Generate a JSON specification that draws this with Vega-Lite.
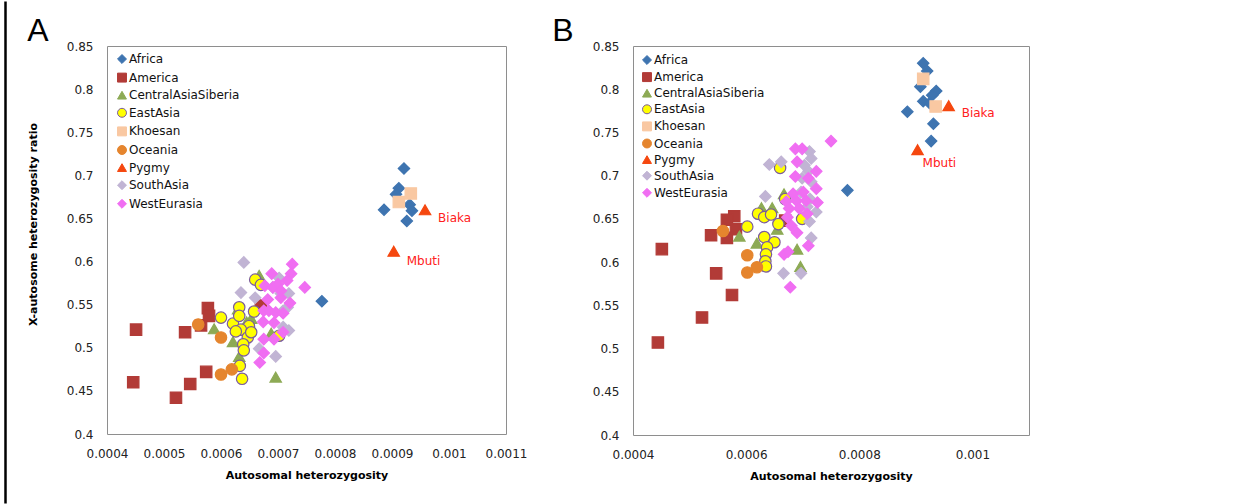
{
  "$schema": "https://vega.github.io/schema/vega-lite/v6.json",
  "background": "white",
  "padding": {"left": 2, "top": 14, "right": 0, "bottom": 0},
  "spacing": 17,
  "datasets": {
    "A": [
      {"g": "Africa", "x": 0.000921, "y": 0.708},
      {"g": "Africa", "x": 0.000912, "y": 0.685},
      {"g": "Africa", "x": 0.000907, "y": 0.678},
      {"g": "Africa", "x": 0.000931, "y": 0.666},
      {"g": "Africa", "x": 0.000935, "y": 0.659},
      {"g": "Africa", "x": 0.000926, "y": 0.647},
      {"g": "Africa", "x": 0.000886, "y": 0.660},
      {"g": "Africa", "x": 0.000777, "y": 0.554},
      {"g": "America", "x": 0.000451, "y": 0.521},
      {"g": "America", "x": 0.000446, "y": 0.460},
      {"g": "America", "x": 0.000537, "y": 0.518},
      {"g": "America", "x": 0.000521, "y": 0.442},
      {"g": "America", "x": 0.000546, "y": 0.458},
      {"g": "America", "x": 0.000574, "y": 0.472},
      {"g": "America", "x": 0.000577, "y": 0.546},
      {"g": "America", "x": 0.000579, "y": 0.537},
      {"g": "America", "x": 0.000565, "y": 0.526},
      {"g": "America", "x": 0.000670, "y": 0.549},
      {"g": "CentralAsiaSiberia", "x": 0.000588, "y": 0.522},
      {"g": "CentralAsiaSiberia", "x": 0.000621, "y": 0.507},
      {"g": "CentralAsiaSiberia", "x": 0.000632, "y": 0.490},
      {"g": "CentralAsiaSiberia", "x": 0.000630, "y": 0.545},
      {"g": "CentralAsiaSiberia", "x": 0.000653, "y": 0.534},
      {"g": "CentralAsiaSiberia", "x": 0.000645, "y": 0.530},
      {"g": "CentralAsiaSiberia", "x": 0.000667, "y": 0.584},
      {"g": "CentralAsiaSiberia", "x": 0.000688, "y": 0.517},
      {"g": "CentralAsiaSiberia", "x": 0.000696, "y": 0.466},
      {"g": "EastAsia", "x": 0.000600, "y": 0.535},
      {"g": "EastAsia", "x": 0.000621, "y": 0.528},
      {"g": "EastAsia", "x": 0.000632, "y": 0.547},
      {"g": "EastAsia", "x": 0.000632, "y": 0.537},
      {"g": "EastAsia", "x": 0.000649, "y": 0.525},
      {"g": "EastAsia", "x": 0.000635, "y": 0.521},
      {"g": "EastAsia", "x": 0.000626, "y": 0.519},
      {"g": "EastAsia", "x": 0.000647, "y": 0.512},
      {"g": "EastAsia", "x": 0.000639, "y": 0.504},
      {"g": "EastAsia", "x": 0.000640, "y": 0.497},
      {"g": "EastAsia", "x": 0.000633, "y": 0.479},
      {"g": "EastAsia", "x": 0.000637, "y": 0.464},
      {"g": "EastAsia", "x": 0.000658, "y": 0.542},
      {"g": "EastAsia", "x": 0.000660, "y": 0.579},
      {"g": "EastAsia", "x": 0.000670, "y": 0.573},
      {"g": "EastAsia", "x": 0.000702, "y": 0.514},
      {"g": "EastAsia", "x": 0.000653, "y": 0.518},
      {"g": "Khoesan", "x": 0.000933, "y": 0.679},
      {"g": "Khoesan", "x": 0.000912, "y": 0.669},
      {"g": "Oceania", "x": 0.000560, "y": 0.527},
      {"g": "Oceania", "x": 0.000600, "y": 0.512},
      {"g": "Oceania", "x": 0.000600, "y": 0.469},
      {"g": "Oceania", "x": 0.000619, "y": 0.475},
      {"g": "Pygmy", "x": 0.000958, "y": 0.660, "pop": "Biaka"},
      {"g": "Pygmy", "x": 0.000903, "y": 0.612, "pop": "Mbuti"},
      {"g": "SouthAsia", "x": 0.000640, "y": 0.599},
      {"g": "SouthAsia", "x": 0.000635, "y": 0.564},
      {"g": "SouthAsia", "x": 0.000660, "y": 0.558},
      {"g": "SouthAsia", "x": 0.000702, "y": 0.581},
      {"g": "SouthAsia", "x": 0.000691, "y": 0.570},
      {"g": "SouthAsia", "x": 0.000705, "y": 0.563},
      {"g": "SouthAsia", "x": 0.000719, "y": 0.563},
      {"g": "SouthAsia", "x": 0.000717, "y": 0.547},
      {"g": "SouthAsia", "x": 0.000709, "y": 0.543},
      {"g": "SouthAsia", "x": 0.000719, "y": 0.520},
      {"g": "SouthAsia", "x": 0.000709, "y": 0.524},
      {"g": "SouthAsia", "x": 0.000667, "y": 0.499},
      {"g": "SouthAsia", "x": 0.000696, "y": 0.490},
      {"g": "WestEurasia", "x": 0.000725, "y": 0.597},
      {"g": "WestEurasia", "x": 0.000723, "y": 0.586},
      {"g": "WestEurasia", "x": 0.000747, "y": 0.570},
      {"g": "WestEurasia", "x": 0.000689, "y": 0.586},
      {"g": "WestEurasia", "x": 0.000677, "y": 0.572},
      {"g": "WestEurasia", "x": 0.000691, "y": 0.570},
      {"g": "WestEurasia", "x": 0.000700, "y": 0.574},
      {"g": "WestEurasia", "x": 0.000716, "y": 0.578},
      {"g": "WestEurasia", "x": 0.000705, "y": 0.566},
      {"g": "WestEurasia", "x": 0.000682, "y": 0.556},
      {"g": "WestEurasia", "x": 0.000705, "y": 0.558},
      {"g": "WestEurasia", "x": 0.000721, "y": 0.552},
      {"g": "WestEurasia", "x": 0.000675, "y": 0.543},
      {"g": "WestEurasia", "x": 0.000684, "y": 0.543},
      {"g": "WestEurasia", "x": 0.000696, "y": 0.541},
      {"g": "WestEurasia", "x": 0.000709, "y": 0.540},
      {"g": "WestEurasia", "x": 0.000674, "y": 0.530},
      {"g": "WestEurasia", "x": 0.000693, "y": 0.529},
      {"g": "WestEurasia", "x": 0.000709, "y": 0.518},
      {"g": "WestEurasia", "x": 0.000675, "y": 0.510},
      {"g": "WestEurasia", "x": 0.000693, "y": 0.510},
      {"g": "WestEurasia", "x": 0.000675, "y": 0.494},
      {"g": "WestEurasia", "x": 0.000668, "y": 0.483}
    ],
    "B": [
      {"g": "Africa", "x": 0.000913, "y": 0.830},
      {"g": "Africa", "x": 0.000920, "y": 0.821},
      {"g": "Africa", "x": 0.000908, "y": 0.803},
      {"g": "Africa", "x": 0.000936, "y": 0.798},
      {"g": "Africa", "x": 0.000929, "y": 0.793},
      {"g": "Africa", "x": 0.000913, "y": 0.786},
      {"g": "Africa", "x": 0.000924, "y": 0.784},
      {"g": "Africa", "x": 0.000885, "y": 0.774},
      {"g": "Africa", "x": 0.000931, "y": 0.760},
      {"g": "Africa", "x": 0.000927, "y": 0.740},
      {"g": "Africa", "x": 0.000779, "y": 0.683},
      {"g": "America", "x": 0.000579, "y": 0.653},
      {"g": "America", "x": 0.000566, "y": 0.649},
      {"g": "America", "x": 0.000582, "y": 0.638},
      {"g": "America", "x": 0.000538, "y": 0.631},
      {"g": "America", "x": 0.000566, "y": 0.628},
      {"g": "America", "x": 0.000451, "y": 0.615},
      {"g": "America", "x": 0.000547, "y": 0.587},
      {"g": "America", "x": 0.000575, "y": 0.562},
      {"g": "America", "x": 0.000522, "y": 0.536},
      {"g": "America", "x": 0.000444, "y": 0.507},
      {"g": "America", "x": 0.000669, "y": 0.648},
      {"g": "CentralAsiaSiberia", "x": 0.000588, "y": 0.630},
      {"g": "CentralAsiaSiberia", "x": 0.000619, "y": 0.622},
      {"g": "CentralAsiaSiberia", "x": 0.000627, "y": 0.663},
      {"g": "CentralAsiaSiberia", "x": 0.000646, "y": 0.663},
      {"g": "CentralAsiaSiberia", "x": 0.000655, "y": 0.638},
      {"g": "CentralAsiaSiberia", "x": 0.000667, "y": 0.679},
      {"g": "CentralAsiaSiberia", "x": 0.000690, "y": 0.615},
      {"g": "CentralAsiaSiberia", "x": 0.000696, "y": 0.595},
      {"g": "EastAsia", "x": 0.000602, "y": 0.641},
      {"g": "EastAsia", "x": 0.000621, "y": 0.656},
      {"g": "EastAsia", "x": 0.000632, "y": 0.652},
      {"g": "EastAsia", "x": 0.000644, "y": 0.655},
      {"g": "EastAsia", "x": 0.000657, "y": 0.644},
      {"g": "EastAsia", "x": 0.000632, "y": 0.629},
      {"g": "EastAsia", "x": 0.000650, "y": 0.623},
      {"g": "EastAsia", "x": 0.000637, "y": 0.617},
      {"g": "EastAsia", "x": 0.000635, "y": 0.609},
      {"g": "EastAsia", "x": 0.000634, "y": 0.601},
      {"g": "EastAsia", "x": 0.000635, "y": 0.595},
      {"g": "EastAsia", "x": 0.000660, "y": 0.709},
      {"g": "EastAsia", "x": 0.000669, "y": 0.673},
      {"g": "EastAsia", "x": 0.000699, "y": 0.650},
      {"g": "Khoesan", "x": 0.000913, "y": 0.812},
      {"g": "Khoesan", "x": 0.000935, "y": 0.780},
      {"g": "Oceania", "x": 0.000559, "y": 0.636},
      {"g": "Oceania", "x": 0.000602, "y": 0.608},
      {"g": "Oceania", "x": 0.000602, "y": 0.588},
      {"g": "Oceania", "x": 0.000619, "y": 0.594},
      {"g": "Pygmy", "x": 0.000958, "y": 0.781, "pop": "Biaka"},
      {"g": "Pygmy", "x": 0.000903, "y": 0.730, "pop": "Mbuti"},
      {"g": "SouthAsia", "x": 0.000641, "y": 0.713},
      {"g": "SouthAsia", "x": 0.000662, "y": 0.716},
      {"g": "SouthAsia", "x": 0.000634, "y": 0.676},
      {"g": "SouthAsia", "x": 0.000712, "y": 0.728},
      {"g": "SouthAsia", "x": 0.000715, "y": 0.720},
      {"g": "SouthAsia", "x": 0.000703, "y": 0.712},
      {"g": "SouthAsia", "x": 0.000710, "y": 0.705},
      {"g": "SouthAsia", "x": 0.000699, "y": 0.697},
      {"g": "SouthAsia", "x": 0.000715, "y": 0.693},
      {"g": "SouthAsia", "x": 0.000697, "y": 0.681},
      {"g": "SouthAsia", "x": 0.000713, "y": 0.673},
      {"g": "SouthAsia", "x": 0.000708, "y": 0.664},
      {"g": "SouthAsia", "x": 0.000724, "y": 0.658},
      {"g": "SouthAsia", "x": 0.000712, "y": 0.647},
      {"g": "SouthAsia", "x": 0.000715, "y": 0.628},
      {"g": "SouthAsia", "x": 0.000666, "y": 0.587},
      {"g": "SouthAsia", "x": 0.000697, "y": 0.587},
      {"g": "WestEurasia", "x": 0.000750, "y": 0.740},
      {"g": "WestEurasia", "x": 0.000687, "y": 0.731},
      {"g": "WestEurasia", "x": 0.000699, "y": 0.731},
      {"g": "WestEurasia", "x": 0.000690, "y": 0.716},
      {"g": "WestEurasia", "x": 0.000724, "y": 0.705},
      {"g": "WestEurasia", "x": 0.000687, "y": 0.699},
      {"g": "WestEurasia", "x": 0.000710, "y": 0.697},
      {"g": "WestEurasia", "x": 0.000724, "y": 0.685},
      {"g": "WestEurasia", "x": 0.000683, "y": 0.679},
      {"g": "WestEurasia", "x": 0.000701, "y": 0.681},
      {"g": "WestEurasia", "x": 0.000671, "y": 0.670},
      {"g": "WestEurasia", "x": 0.000689, "y": 0.671},
      {"g": "WestEurasia", "x": 0.000706, "y": 0.671},
      {"g": "WestEurasia", "x": 0.000726, "y": 0.669},
      {"g": "WestEurasia", "x": 0.000676, "y": 0.662},
      {"g": "WestEurasia", "x": 0.000694, "y": 0.662},
      {"g": "WestEurasia", "x": 0.000708, "y": 0.656},
      {"g": "WestEurasia", "x": 0.000673, "y": 0.652},
      {"g": "WestEurasia", "x": 0.000680, "y": 0.642},
      {"g": "WestEurasia", "x": 0.000690, "y": 0.634},
      {"g": "WestEurasia", "x": 0.000710, "y": 0.619},
      {"g": "WestEurasia", "x": 0.000667, "y": 0.609},
      {"g": "WestEurasia", "x": 0.000674, "y": 0.612},
      {"g": "WestEurasia", "x": 0.000678, "y": 0.571}
    ]
  },
  "hconcat": [
    {
      "width": 1,
      "height": 457,
      "data": {"values": [{"v": 0.5}]},
      "mark": {"type": "point", "opacity": 0},
      "encoding": {
        "y": {
          "field": "v", "type": "quantitative",
          "scale": {"domain": [0, 1], "range": [457, -45]},
          "axis": {"domain": true, "domainColor": "#000000", "domainWidth": 2.5, "labels": false, "ticks": false, "grid": false, "title": null}
        }
      },
      "view": {"stroke": null}
    },
    {
      "spacing": 23,
      "resolve": {
        "scale": {"x": "independent", "y": "independent", "fill": "independent", "stroke": "independent", "shape": "independent"},
        "legend": {"fill": "independent", "stroke": "independent", "shape": "independent"}
      },
      "hconcat": [
        {
          "width": 399,
          "height": 388,
          "data": {"name": "A"},
          "title": {"text": "A", "offset": 0, "dy": 8, "frame": "bounds"},
          "view": {"stroke": "#8e8e8e", "strokeWidth": 1},
          "encoding": {
            "x": {
              "field": "x", "type": "quantitative",
              "scale": {"domain": [0.0004, 0.0011], "zero": false, "nice": false},
              "axis": {"values": [0.0004, 0.0005, 0.0006, 0.0007, 0.0008, 0.0009, 0.001, 0.0011], "format": "~g", "title": "Autosomal heterozygosity", "labelPadding": 14, "titlePadding": 10}
            },
            "y": {
              "field": "y", "type": "quantitative",
              "scale": {"domain": [0.4, 0.85], "zero": false, "nice": false},
              "axis": {"values": [0.4, 0.45, 0.5, 0.55, 0.6, 0.65, 0.7, 0.75, 0.8, 0.85], "format": "~g", "title": "X-autosome heterozygosity ratio", "labelPadding": 14, "titlePadding": 28, "titleY": 178}
            }
          },
          "layer": [
            {
              "mark": {"type": "point", "filled": true, "size": 130, "strokeWidth": 1.2, "opacity": 1},
              "encoding": {
                "fill": {
                  "field": "g", "type": "nominal",
                  "scale": {"domain": ["Africa", "America", "CentralAsiaSiberia", "EastAsia", "Khoesan", "Oceania", "Pygmy", "SouthAsia", "WestEurasia"],
                            "range": ["#3E74B0", "#B23B37", "#8DAA55", "#FFFF00", "#F9C8A2", "#E5852E", "#F5470F", "#C1B4D4", "#F06EF2"]},
                  "legend": {"orient": "none", "legendX": 9, "legendY": 7, "rowPadding": 4.6, "title": null}
                },
                "stroke": {
                  "field": "g", "type": "nominal",
                  "scale": {"domain": ["Africa", "America", "CentralAsiaSiberia", "EastAsia", "Khoesan", "Oceania", "Pygmy", "SouthAsia", "WestEurasia"],
                            "range": ["#3E74B0", "#B23B37", "#8DAA55", "#7A5B9E", "#F9C8A2", "#E5852E", "#F5470F", "#C1B4D4", "#F06EF2"]},
                  "legend": {"orient": "none", "legendX": 9, "legendY": 7, "rowPadding": 4.6, "title": null}
                },
                "shape": {
                  "field": "g", "type": "nominal",
                  "scale": {"domain": ["Africa", "America", "CentralAsiaSiberia", "EastAsia", "Khoesan", "Oceania", "Pygmy", "SouthAsia", "WestEurasia"],
                            "range": ["diamond", "square", "triangle-up", "circle", "square", "circle", "triangle-up", "diamond", "diamond"]},
                  "legend": {"orient": "none", "legendX": 9, "legendY": 7, "rowPadding": 4.6, "title": null}
                }
              }
            },
            {
              "transform": [{"filter": "datum.pop == 'Biaka'"}],
              "mark": {"type": "text", "align": "left", "baseline": "middle", "dx": 13, "dy": 8, "color": "#FF2020", "fontSize": 12, "font": "DejaVu Sans"},
              "encoding": {"text": {"field": "pop"}}
            },
            {
              "transform": [{"filter": "datum.pop == 'Mbuti'"}],
              "mark": {"type": "text", "align": "left", "baseline": "middle", "dx": 13, "dy": 10, "color": "#FF2020", "fontSize": 12, "font": "DejaVu Sans"},
              "encoding": {"text": {"field": "pop"}}
            }
          ]
        },
        {
          "width": 396,
          "height": 389,
          "data": {"name": "B"},
          "title": {"text": "B", "offset": 0, "dy": 8, "frame": "bounds", "dx": -40},
          "view": {"stroke": "#8e8e8e", "strokeWidth": 1},
          "encoding": {
            "x": {
              "field": "x", "type": "quantitative",
              "scale": {"domain": [0.0004, 0.0011], "zero": false, "nice": false},
              "axis": {"values": [0.0004, 0.0006, 0.0008, 0.001], "format": "~g", "title": "Autosomal heterozygosity", "labelPadding": 14, "titlePadding": 10}
            },
            "y": {
              "field": "y", "type": "quantitative",
              "scale": {"domain": [0.4, 0.85], "zero": false, "nice": false},
              "axis": {"values": [0.4, 0.45, 0.5, 0.55, 0.6, 0.65, 0.7, 0.75, 0.8, 0.85], "format": "~g", "title": null, "labelPadding": 14}
            }
          },
          "layer": [
            {
              "mark": {"type": "point", "filled": true, "size": 130, "strokeWidth": 1.2, "opacity": 1},
              "encoding": {
                "fill": {
                  "field": "g", "type": "nominal",
                  "scale": {"domain": ["Africa", "America", "CentralAsiaSiberia", "EastAsia", "Khoesan", "Oceania", "Pygmy", "SouthAsia", "WestEurasia"],
                            "range": ["#3E74B0", "#B23B37", "#8DAA55", "#FFFF00", "#F9C8A2", "#E5852E", "#F5470F", "#C1B4D4", "#F06EF2"]},
                  "legend": {"orient": "none", "legendX": 8, "legendY": 8, "rowPadding": 3.1, "title": null}
                },
                "stroke": {
                  "field": "g", "type": "nominal",
                  "scale": {"domain": ["Africa", "America", "CentralAsiaSiberia", "EastAsia", "Khoesan", "Oceania", "Pygmy", "SouthAsia", "WestEurasia"],
                            "range": ["#3E74B0", "#B23B37", "#8DAA55", "#7A5B9E", "#F9C8A2", "#E5852E", "#F5470F", "#C1B4D4", "#F06EF2"]},
                  "legend": {"orient": "none", "legendX": 8, "legendY": 8, "rowPadding": 3.1, "title": null}
                },
                "shape": {
                  "field": "g", "type": "nominal",
                  "scale": {"domain": ["Africa", "America", "CentralAsiaSiberia", "EastAsia", "Khoesan", "Oceania", "Pygmy", "SouthAsia", "WestEurasia"],
                            "range": ["diamond", "square", "triangle-up", "circle", "square", "circle", "triangle-up", "diamond", "diamond"]},
                  "legend": {"orient": "none", "legendX": 8, "legendY": 8, "rowPadding": 3.1, "title": null}
                }
              }
            },
            {
              "transform": [{"filter": "datum.pop == 'Biaka'"}],
              "mark": {"type": "text", "align": "left", "baseline": "middle", "dx": 13, "dy": 7, "color": "#FF2020", "fontSize": 12, "font": "DejaVu Sans"},
              "encoding": {"text": {"field": "pop"}}
            },
            {
              "transform": [{"filter": "datum.pop == 'Mbuti'"}],
              "mark": {"type": "text", "align": "left", "baseline": "middle", "dx": 5, "dy": 13, "color": "#FF2020", "fontSize": 12, "font": "DejaVu Sans"},
              "encoding": {"text": {"field": "pop"}}
            }
          ]
        }
      ]
    }
  ],
  "config": {
    "font": "DejaVu Sans",
    "axis": {
      "labelFont": "DejaVu Sans", "labelFontSize": 12, "labelColor": "#222222",
      "titleFont": "DejaVu Sans", "titleFontSize": 11, "titleFontWeight": "bold", "titleColor": "#000000",
      "domain": false, "ticks": false, "grid": false, "labelFlush": false, "labelOverlap": false
    },
    "legend": {
      "labelFont": "DejaVu Sans", "labelFontSize": 12, "labelColor": "#111111",
      "symbolSize": 80, "symbolStrokeWidth": 1, "padding": 0, "labelOffset": 1
    },
    "title": {"font": "Liberation Sans", "fontSize": 32, "fontWeight": "normal", "anchor": "start", "color": "#000000"}
  }
}
